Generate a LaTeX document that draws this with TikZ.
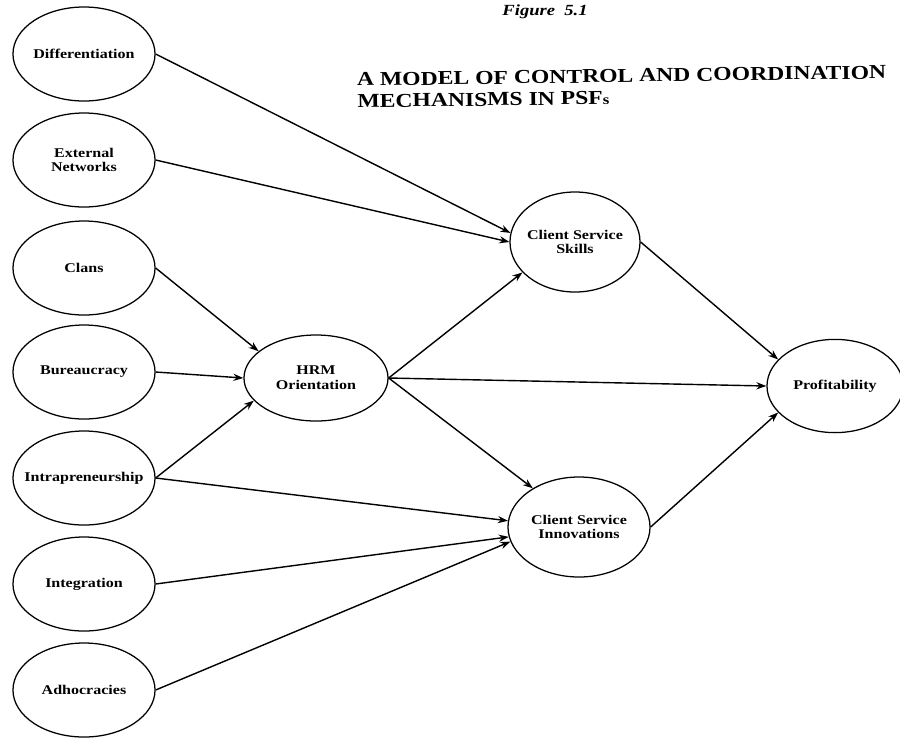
\documentclass[tikz,border=0pt]{standalone}
\usepackage{fontspec}
\setmainfont[FakeStretch=1.2]{Liberation Serif}
\usetikzlibrary{shapes.geometric, arrows.meta}

\begin{document}
\begin{tikzpicture}[
      x=0.025cm, y=-0.025cm,
      >={Stealth[length=2.5mm, width=1.8mm]},
      factor/.style={ellipse, draw=black, line width=0.9pt, minimum width=3.55cm, minimum height=2.35cm, inner xsep=-0.3cm, inner ysep=0pt, align=center, font=\fontsize{9.5}{10.5}\selectfont\bfseries},
      link/.style={->, line width=1pt}
  ]
  \useasboundingbox (0,0) rectangle (900,739);

  % Antecedents
  \node[factor] (diff) at (84,54) {Differentiation};
  \node[factor] (extnet) at (84,160) {External\\Networks};
  \node[factor] (clans) at (84,268) {Clans};
  \node[factor] (bureau) at (84,372) {Bureaucracy};
  \node[factor] (intra) at (84,478) {Intrapreneurship};
  \node[factor] (integ) at (84,584) {Integration};
  \node[factor] (adhoc) at (84,690) {Adhocracies};

  % Mediators
  \node[factor, minimum width=3.6cm, minimum height=2.15cm] (hrm) at (316,378) {HRM\\Orientation};
  \node[factor, minimum width=3.25cm, minimum height=2.5cm] (skills) at (575,242) {Client Service\\Skills};
  \node[factor, minimum width=3.55cm, minimum height=2.5cm] (innov) at (579,527) {Client Service\\Innovations};

  % Outcome
  \node[factor, minimum width=3.4cm, minimum height=2.33cm] (profit) at (835,386) {Profitability};

  % Links into the mediators
  \draw[link] (diff.east) -- (skills.172);
  \draw[link] (extnet.east) -- (skills.west);
  \draw[link] (clans.east) -- (hrm.155);
  \draw[link] (bureau.east) -- (hrm.west);
  \draw[link] (intra.east) -- (hrm.200);
  \draw[link] (intra.east) -- (innov.175);
  \draw[link] (integ.east) -- (innov.188);
  \draw[link] (adhoc.east) -- (innov.192);

  % Links out of HRM
  \draw[link] (hrm.east) -- (skills.210);
  \draw[link] (hrm.east) -- (profit.west);
  \draw[link] (hrm.east) -- (innov.140);

  % Links into profitability
  \draw[link] (skills.east) -- (profit.155);
  \draw[link] (innov.east) -- (profit.205);

  \node[anchor=south, font=\fontsize{11}{13}\selectfont\bfseries\itshape] (fig) at (545,24) {Figure~~5.1};
  \node[anchor=north west, align=left, rotate=0.8, font=\fontsize{14}{15.5}\selectfont\bfseries] (title) at (352,68) {A MODEL OF CONTROL AND COORDINATION\\MECHANISMS IN PSF{\fontsize{10}{10}\selectfont s}};

\end{tikzpicture}
\end{document}
